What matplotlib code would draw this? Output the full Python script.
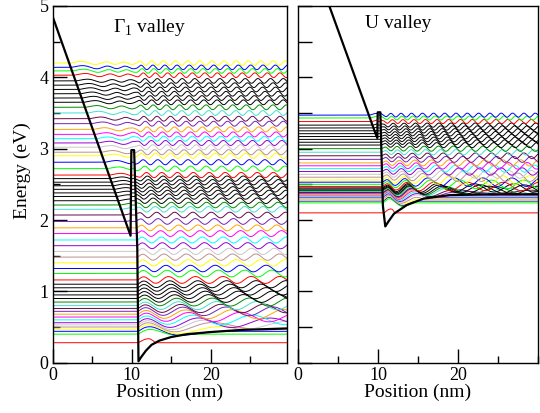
import numpy as np
import matplotlib
matplotlib.use("Agg")
import matplotlib.pyplot as plt
from matplotlib.ticker import MultipleLocator

plt.rcParams['font.family'] = ['Liberation Serif', 'DejaVu Serif']
plt.rcParams['mathtext.fontset'] = 'custom'
plt.rcParams['mathtext.rm'] = 'Liberation Serif'

# perfil de potencial
gamma_pot_x = [0, 9.85, 9.95, 10.3, 10.7, 10.85, 11.2, 11.8, 12.5, 13.5, 15.0, 17.0, 20.0, 24.0, 29.6]
gamma_pot_v = [4.85, 1.78, 2.98, 2.98, 1.6, 0.02, 0.08, 0.17, 0.25, 0.31, 0.36, 0.40, 0.43, 0.46, 0.48]

u_pot_x = [0, 9.65, 9.9, 9.95, 10.28, 10.6, 10.9, 11.3, 12.0, 13.6, 15.7, 19.0, 24.0, 30.0]
u_pot_v = [6.2, 3.22, 3.15, 3.51, 3.51, 2.2, 1.91, 1.98, 2.09, 2.21, 2.30, 2.35, 2.36, 2.36]

# níveis de energia (eV)
gamma_levels = [0.28, 0.40, 0.44, 0.47, 0.50, 0.53, 0.56, 0.60, 0.64, 0.68, 0.72, 0.76, 0.80, 0.85,
                0.90, 0.95, 1.00, 1.05, 1.10,
                1.16, 1.25, 1.32, 1.40, 1.48, 1.56, 1.64, 1.72, 1.81, 1.89, 1.98, 2.07, 2.15, 2.21,
                2.27, 2.33, 2.38, 2.43, 2.48, 2.53, 2.58,
                2.63, 2.72, 2.81, 2.90, 2.95, 3.02, 3.08, 3.14, 3.20, 3.27, 3.35, 3.42, 3.50, 3.58,
                3.65, 3.71, 3.77, 3.83, 3.89, 3.95,
                4.03, 4.09, 4.14, 4.20]

u_levels = [2.10, 2.24, 2.265, 2.28, 2.295, 2.31, 2.32, 2.335, 2.35, 2.36, 2.375, 2.385, 2.40, 2.41,
            2.42, 2.435, 2.45,
            2.47, 2.50, 2.53, 2.56, 2.60, 2.64, 2.68, 2.72, 2.76, 2.80, 2.85, 2.90, 2.95, 3.00,
            3.05, 3.09, 3.13, 3.17, 3.21, 3.25, 3.29, 3.33,
            3.38, 3.43, 3.47]

# ciclo de cores do xmgrace
cores = {'k': '#000000', 'r': '#ff0000', 'g': '#00ff00', 'b': '#0000ff', 'y': '#ffff00',
         'br': '#bc8f8f', 'gr': '#c8c8c8', 'vi': '#9400d3', 'cy': '#00ffff', 'ma': '#ff00ff',
         'or': '#ffa500', 'in': '#7221bc', 'mr': '#670748', 'tu': '#40e0d0', 'g4': '#008b00'}
ciclo = ['r', 'g', 'b', 'y', 'br', 'gr', 'vi', 'cy', 'ma', 'or', 'in', 'mr', 'tu', 'g4']

gamma_colors = ciclo + ['k'] * 5 + ciclo + ['k'] * 7 + ciclo + ['k'] * 6 + ciclo[:4]
u_colors = ciclo + ['k'] * 3 + ciclo + ['k'] * 8 + ciclo[:3]

x = np.linspace(0, 30, 1501)
dx = x[1] - x[0]


def onda(E, px, pv, c, A, p, teto):
    # E + A*psi(x), oscilação WKB simples onde E > V
    V = np.interp(x, px, pv)
    d = np.clip(E - V, 0, None)
    fase = np.cumsum(c * np.sqrt(d)) * dx
    env = np.tanh(d / 0.04) * np.minimum((d + 0.02) ** -p, teto)
    fator = 0.45 + 0.55 / (1 + np.exp(-(x - 10.8) / 0.15))
    return E + A * fator * env * np.sin(fase)


fig = plt.figure(figsize=(5.4, 4.13), dpi=100)
ax1 = fig.add_axes([52.7 / 540, 1 - 362.7 / 413, 234 / 540, 356.7 / 413])
ax2 = fig.add_axes([298.3 / 540, 1 - 362.7 / 413, 239.4 / 540, 356.7 / 413])

for E, c in zip(gamma_levels, gamma_colors):
    ax1.plot(x, onda(E, gamma_pot_x, gamma_pot_v, 2.1, 0.045, 0.25, 1.5), color=cores[c], lw=0.7)
ax1.plot(gamma_pot_x, gamma_pot_v, color='black', lw=1.6, zorder=5)

for E, c in zip(u_levels, u_colors):
    ax2.plot(x, onda(E, u_pot_x, u_pot_v, 4.2, 0.03, 0.5, 2.0), color=cores[c], lw=0.7)
ax2.plot(u_pot_x, u_pot_v, color='black', lw=1.6, zorder=5)

ax1.set_xlim(0, 29.6)
ax2.set_xlim(0, 30)
for ax in (ax1, ax2):
    ax.set_ylim(0, 5)
    ax.xaxis.set_major_locator(MultipleLocator(10))
    ax.xaxis.set_minor_locator(MultipleLocator(5))
    ax.tick_params(which='both', direction='in', top=False, right=False, width=1.0,
                   labelsize=13, pad=3)
    ax.tick_params(which='major', length=10)
    ax.tick_params(which='minor', length=5)
    for s in ax.spines.values():
        s.set_linewidth(1.0)
    ax.set_xlabel("Position (nm)", fontsize=14, labelpad=0)
    ax.set_xticks([0, 10, 20])

ax1.yaxis.set_major_locator(MultipleLocator(1))
ax1.yaxis.set_minor_locator(MultipleLocator(0.5))
ax2.yaxis.set_major_locator(MultipleLocator(0.5))
ax2.tick_params(axis='y', labelleft=False)

fig.text(0.042, 0.586, "Energy (eV)", rotation=90, ha='center', va='center', fontsize=14)

ax1.text(0.258, 0.941, r"$\Gamma_1$ valley", transform=ax1.transAxes, ha='left', va='center', fontsize=14)
ax2.text(0.279, 0.952, "U valley", transform=ax2.transAxes, ha='left', va='center', fontsize=14)

fig.savefig("out.png", dpi=100)
